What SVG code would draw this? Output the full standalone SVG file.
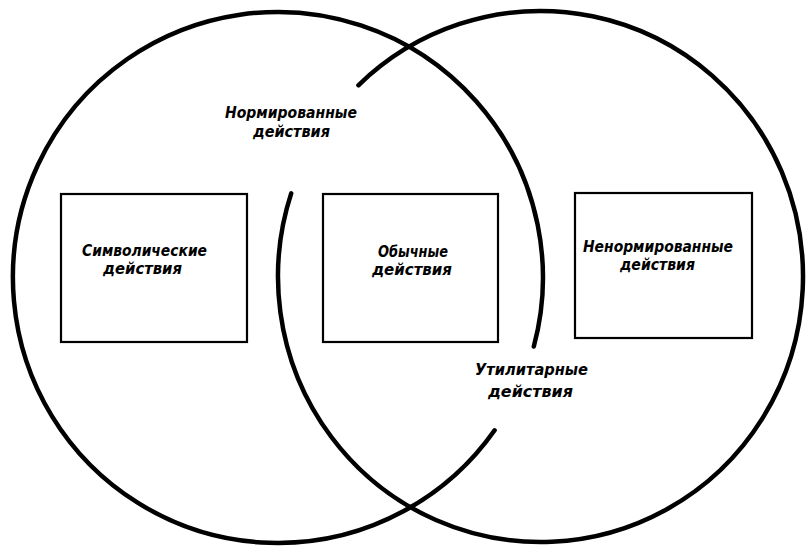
<svg xmlns="http://www.w3.org/2000/svg" width="809" height="546" viewBox="0 0 809 546">
<style>
.ring{fill:none;stroke:#000;stroke-width:4.5;stroke-linecap:round}
.box{fill:#fff;stroke:#000;stroke-width:2.2}
.t{font-family:"DejaVu Sans Condensed","DejaVu Sans","Liberation Sans",sans-serif;font-style:italic;font-weight:bold;font-size:15.5px;fill:#000}
</style>
<rect width="809" height="546" fill="#fff"/>
<g id="circles">
<path id="circle-left" class="ring" d="M494.6,430.3 A265,265.5 0 1 1 533.8,346.5"/>
<path id="circle-right" class="ring" d="M358.4,85.3 A262.5,265.5 0 1 1 291.2,193.4"/>
</g>
<g id="connectors"></g>
<g id="node-symbolic">
<rect class="box" x="61" y="194" width="186" height="148"/>
<text class="t" x="82" y="256" textLength="125" lengthAdjust="spacingAndGlyphs">Символические</text>
<text class="t" x="103" y="274" textLength="79" lengthAdjust="spacingAndGlyphs">действия</text>
</g>
<g id="node-usual">
<rect class="box" x="323" y="194" width="175" height="148"/>
<text class="t" x="378" y="257" textLength="70" lengthAdjust="spacingAndGlyphs">Обычные</text>
<text class="t" x="372" y="275" textLength="80" lengthAdjust="spacingAndGlyphs">действия</text>
</g>
<g id="node-unnormed">
<rect class="box" x="575" y="193" width="177" height="145"/>
<text class="t" x="583" y="252" textLength="150" lengthAdjust="spacingAndGlyphs">Ненормированные</text>
<text class="t" x="620" y="270" textLength="75" lengthAdjust="spacingAndGlyphs">действия</text>
</g>
<g id="label-normed">
<text class="t" x="225" y="118" textLength="132" lengthAdjust="spacingAndGlyphs">Нормированные</text>
<text class="t" x="253" y="137" textLength="77" lengthAdjust="spacingAndGlyphs">действия</text>
</g>
<g id="label-utilitarian">
<text class="t" x="475" y="375" textLength="113" lengthAdjust="spacingAndGlyphs">Утилитарные</text>
<text class="t" x="488" y="397" textLength="85" lengthAdjust="spacingAndGlyphs">действия</text>
</g>
</svg>
